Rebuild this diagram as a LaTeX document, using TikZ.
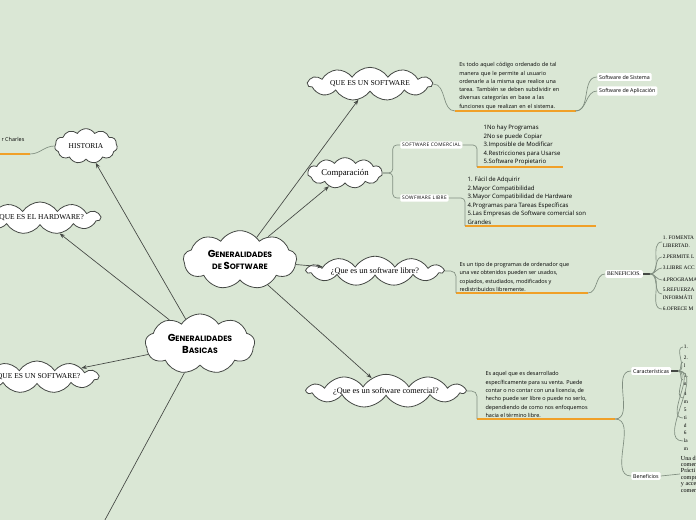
\documentclass[tikz,border=0pt]{standalone}
\usepackage{fontspec}
\setmainfont{Liberation Serif}
\setsansfont{Open Sans}
\newfontfamily\titulo{Poppins}
\usepackage{tikz}
\usetikzlibrary{
	arrows.meta,
	positioning,
	calc,
	shapes.symbols
}
\usepackage{xcolor}
\definecolor{fondo}{RGB}{218,231,213}
\definecolor{rama}{RGB}{128,142,128}
\definecolor{subrayado}{RGB}{240,160,40}
\definecolor{trazo}{RGB}{68,72,68}
\newcommand{\inicial}[1]{{\fontsize{7.6}{8}\selectfont #1}}

\tikzset{
	nube/.style={cloud, cloud puffs=11, cloud puff arc=115, cloud ignores aspect,
		draw=trazo, fill=white, line width=0.6pt, inner sep=0pt, align=center,
		font=\fontsize{5.6}{6.5}\selectfont},
	nubetitulo/.style={nube, cloud puffs=9, font=\titulo\bfseries\fontsize{5.8}{9}\selectfont},
	flecha/.style={-{Stealth[length=4pt,width=3pt]}, draw=trazo, line width=0.5pt},
	rama/.style={draw=rama, line width=0.5pt},
	subr/.style={draw=subrayado, line width=1.1pt},
	nota/.style={font=\sffamily\fontsize{4.1}{6.2}\selectfont, align=left,
		inner sep=1pt, anchor=south west},
	lista/.style={nota, font=\sffamily\fontsize{4.5}{6.4}\selectfont},
	etiqueta/.style={fill=white, rounded corners=1pt, inner sep=1.4pt, anchor=west,
		font=\sffamily\fontsize{4}{5}\selectfont},
	item/.style={font=\fontsize{4}{6}\selectfont, align=left, inner sep=0.5pt, anchor=west}
}

\begin{document}
\begin{tikzpicture}[x=0.75pt,y=-0.75pt]
	
	% Fondo
	\useasboundingbox (0,0) rectangle (696,520);
	\fill[fondo] (0,0) rectangle (696,520);
	\clip (0,0) rectangle (696,520);
	
	% Nubes
	\node[nube, minimum width=47pt, minimum height=26pt] (historia) at (86,146) {HISTORIA};
	\node[nube, minimum width=88pt, minimum height=24pt] (hardware) at (40,218) {¿QUE ES EL HARDWARE?};
	\node[nube, minimum width=92pt, minimum height=24pt] (queessw) at (37,377) {¿QUE ES UN SOFTWARE?};
	\node[nubetitulo, minimum width=82pt, minimum height=45pt] (basicas) at (200,344)
	{\inicial{G}ENERALIDADES\\\inicial{B}ASICAS};
	\node[nubetitulo, minimum width=85pt, minimum height=44pt] (gensw) at (240,260)
	{\inicial{G}ENERALIDADES\\DE \inicial{S}OFTWARE};
	\node[nube, minimum width=93pt, minimum height=25pt] (queesun) at (370,84) {QUE ES UN SOFTWARE};
	\node[nube, minimum width=56pt, minimum height=23pt, font=\fontsize{6.6}{7}\selectfont]
	(comparacion) at (345,173) {Comparación};
	\node[nube, minimum width=102pt, minimum height=20pt, font=\fontsize{6.2}{7}\selectfont]
	(libre) at (375,271) {¿Que es un software libre?};
	\node[nube, minimum width=118pt, minimum height=21pt, font=\fontsize{6.2}{7}\selectfont]
	(comercial) at (386,391) {¿Que es un software comercial?};
	\coordinate (abajo) at (59,605);
	
	% Flechas
	\draw[flecha] (basicas) -- (historia);
	\draw[flecha] (basicas) -- (hardware);
	\draw[flecha] (basicas) -- (queessw);
	\draw[flecha] (basicas) -- (abajo);
	\draw[flecha] (gensw) -- (queesun);
	\draw[flecha] (gensw) -- (comparacion);
	\draw[flecha] (gensw) -- (libre);
	\draw[flecha] (gensw) -- (comercial);
	
	% Historia
	\node[nota, anchor=west] (histnota) at (0,139) {r Charles};
	\coordinate (hist-a) at (-10,154);
	\coordinate (hist-b) at (30,154);
	\draw[subr] (hist-a) -- (hist-b);
	\draw[rama] (hist-b) to[out=0,in=180] (historia.west);
	
	% Que es un software
	\node[nota, text width=88pt] (queesun-nota) at (455,111)
	{\hspace*{2pt}Es todo aquel código ordenado de tal\\
		\hspace*{2pt}manera que le permite al usuario\\
		\hspace*{2pt}ordenarle a la misma que realice una\\
		\hspace*{2pt}tarea. También se deben subdividir en\\
		\hspace*{2pt}diversas categorías en base a las\\
		\hspace*{2pt}funciones que realizan en el sistema.};
	\draw[subr] (queesun-nota.south west) -- (queesun-nota.south east);
	\draw[rama] (queesun.east) to[out=0,in=180] (queesun-nota.south west);
	\node[etiqueta] (sistema) at (597,77) {Software de Sistema};
	\node[etiqueta] (aplicacion) at (597,91) {Software de Aplicación};
	\draw[rama] (queesun-nota.south east) to[out=0,in=180] (sistema.west);
	\draw[rama] (queesun-nota.south east) to[out=0,in=180] (aplicacion.west);
	
	% Comparacion
	\node[etiqueta, font=\sffamily\fontsize{3.6}{4.5}\selectfont\addfontfeatures{LetterSpace=8}]
	(swcomercial) at (400,145) {SOFTWARE COMERCIAL};
	\node[etiqueta, font=\sffamily\fontsize{3.6}{4.5}\selectfont\addfontfeatures{LetterSpace=8}]
	(swlibre) at (400,198) {SOWFWARE LIBRE};
	\draw[rama, rounded corners=3pt] (comparacion.east) -- ++(10,0) |- (swcomercial.west);
	\draw[rama, rounded corners=3pt] (comparacion.east) -- ++(10,0) |- (swlibre.west);
	
	\coordinate (comlista-a) at (477,167);
	\node[lista] (comlista) at (482,167)
	{1No hay Programas\\2No se puede Copiar\\3.Imposible de Modificar\\
		4.Restricciones para Usarse\\5.Software Propietario};
	\draw[subr] (comlista-a) -- (563,167);
	\draw[rama, rounded corners=3pt] (swcomercial.east) -| (comlista-a);
	
	\coordinate (liblista-a) at (465,226);
	\node[lista] (liblista) at (466,226)
	{1. Fácil de Adquirir\\2.Mayor Compatibilidad\\3.Mayor Compatibilidad de Hardware\\
		4.Programas para Tareas Específicas\\5.Las Empresas de Software comercial son\\Grandes};
	\draw[subr] (liblista-a) -- (596,226);
	\draw[rama, rounded corners=3pt] (swlibre.east) -| (liblista-a);
	
	% Software libre
	\coordinate (librenota-a) at (456,293);
	\node[nota] (librenota) at (458,293)
	{Es un tipo de programas de ordenador que\\una vez obtenidos pueden ser usados,\\
		copiados, estudiados, modificados y\\redistribuidos libremente.};
	\coordinate (librenota-b) at (588,293);
	\draw[subr] (librenota-a) -- (librenota-b);
	\draw[rama, rounded corners=4pt] (libre.east) -| (librenota-a);
	\node[etiqueta, font=\fontsize{4.2}{5}\selectfont] (beneficios) at (605,274) {BENEFICIOS.};
	\draw[rama] (librenota-b) to[out=0,in=180] (beneficios.west);
	\draw[trazo, line width=1.2pt] (beneficios.east) -- ++(7,0) coordinate (ben-hub);
	
	\node[item] (ben1) at (662,242) {1. FOMENTA\\LIBERTAD.};
	\node[item] (ben2) at (662,257) {2.PERMITE L};
	\node[item] (ben3) at (662,268) {3.LIBRE ACC};
	\node[item] (ben4) at (662,280) {4.PROGRAMA};
	\node[item] (ben5) at (662,294) {5.REFUERZA\\INFORMÁTI};
	\node[item] (ben6) at (662,309) {6.OFRECE M};
	\foreach \b in {ben1,ben2,ben3,ben4,ben5,ben6}
	\draw[rama] (ben-hub) to[out=0,in=180] (\b.west);
	
	% Software comercial
	\coordinate (comnota-a) at (477,419);
	\node[nota] (comnota) at (484,419)
	{Es aquel que es desarrollado\\específicamente para su venta. Puede\\
		contar o no contar con una licencia, de\\hecho puede ser libre o puede no serlo,\\
		dependiendo de como nos enfoquemos\\hacia el término libre.};
	\coordinate (comnota-b) at (615,419);
	\draw[subr] (comnota-a) -- (comnota-b);
	\draw[rama, rounded corners=4pt] (comercial.east) -| (comnota-a);
	\node[etiqueta] (caract) at (631,371) {Características};
	\node[etiqueta] (benef) at (631,476) {Beneficios};
	\draw[rama] (comnota-b) to[out=0,in=180] (caract.west);
	\draw[rama] (comnota-b) to[out=0,in=180] (benef.west);
	\draw[trazo, line width=1.2pt] (caract.east) -- ++(7,0) coordinate (car-hub);
	
	\node[item] (car1) at (683,347) {1.};
	\node[item] (car2) at (683,362) {2.\\l};
	\node[item] (car3) at (683,380) {3.\\n};
	\node[item] (car4) at (683,398) {4\\m};
	\node[item] (car5) at (683,418) {5\\ti\\d};
	\node[item] (car6) at (683,441) {6\\la\\m};
	\foreach \c in {car1,car2,car3,car4,car5,car6}
	\draw[rama] (car-hub) to[out=0,in=180] (\c.west);
	
	\node[item, font=\fontsize{4.6}{4.8}\selectfont] (benefnota) at (680,474)
	{Una de\\comerc\\Prácti\\compr\\y acce\\comerc};
	\draw[rama] (benef.east) -- (benefnota.west);
	
\end{tikzpicture}
\end{document}
